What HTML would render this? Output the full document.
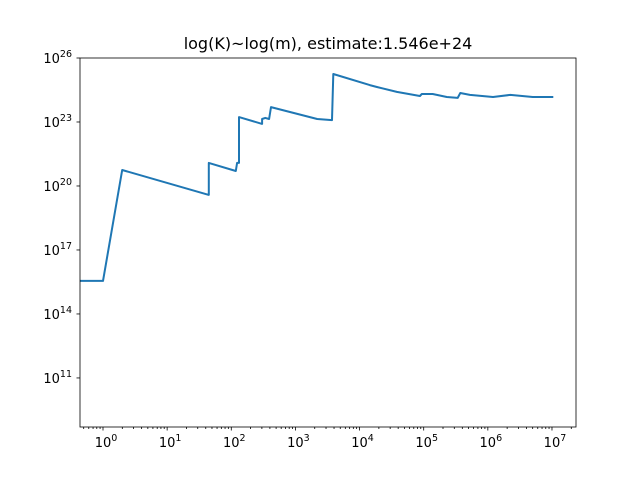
<!DOCTYPE html>
<html><head><meta charset="utf-8"><style>
body{margin:0;background:#fff;}
svg{display:block;font-family:"DejaVu Sans","Liberation Sans",sans-serif;}
</style></head><body>
<svg id="chart" width="640" height="480">
<rect width="640" height="480" fill="#fff"/>
<text x="328" y="49" text-anchor="middle" font-size="16">log(K)~log(m), estimate:1.546e+24</text>
<g id="ticks"></g>
<path id="series" fill="none" stroke="#1f77b4" stroke-width="2" stroke-linejoin="round"/>
<rect x="80" y="58" width="496" height="369" fill="none" stroke="#000" stroke-width="0.8"/>
</svg>
<script>
const mExp=[-0.36,0,0.30,1.65,1.65,2.07,2.09,2.12,2.12,2.48,2.48,2.53,2.59,2.62,3.34,3.57,3.59,4.16,4.27,4.58,4.94,4.97,5.14,5.36,5.53,5.57,5.72,6.08,6.35,6.70,7.02];
const kExp=[15.55,15.55,20.75,19.58,21.08,20.70,21.08,21.08,23.23,22.91,23.14,23.19,23.14,23.70,23.14,23.09,25.25,24.73,24.64,24.41,24.22,24.31,24.31,24.17,24.13,24.36,24.27,24.17,24.27,24.17,24.17];
const xTicks=[0,1,2,3,4,5,6,7];
const yTicks=[11,14,17,20,23,26];
const X=e=>103+(e)*64.14;
const Y=e=>58+(26-e)*21.33;
const NS='http://www.w3.org/2000/svg';
const g=document.getElementById('ticks');
function line(x1,y1,x2,y2,n){const l=document.createElementNS(NS,'line');l.setAttribute('x1',x1);l.setAttribute('y1',y1);l.setAttribute('x2',x2);l.setAttribute('y2',y2);l.setAttribute('stroke','#000');l.setAttribute('stroke-width','0.8');


g.appendChild(l);}
function label(x,y,e,anchor,n){const t=document.createElementNS(NS,'text');t.setAttribute('x',x);t.setAttribute('y',y);t.setAttribute('text-anchor',anchor);t.setAttribute('font-size','13');


t.innerHTML='10<tspan dy="-6" font-size="9.5">'+e+'</tspan>';g.appendChild(t);}
xTicks.forEach(e=>{const x=X(e);line(x,427,x,430.5,'x-tick');label(x+3,447,e,'middle','x-tick-label');});
for(let d=-1;d<=7;d++){for(let s=2;s<=9;s++){const x=X(d+Math.log10(s));if(x>80&&x<576)line(x,427,x,429,'x-minor-tick');}}
yTicks.forEach(e=>{const y=Y(e);line(80,y,76.5,y,'y-tick');label(72,y+5,e,'end','y-tick-label');});
let p='';mExp.forEach((m,i)=>{p+=(i?'L':'M')+X(m).toFixed(1)+' '+Y(kExp[i]).toFixed(1);});
document.getElementById('series').setAttribute('d',p);
</script>
</body></html>
